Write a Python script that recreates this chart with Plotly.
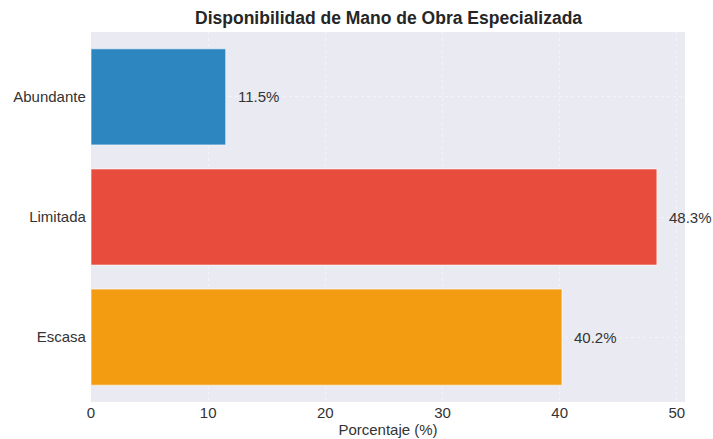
import plotly.graph_objects as go

categories = ["Escasa", "Limitada", "Abundante"]
values = [40.2, 48.3, 11.5]
colors = ["#f39c12", "#e74c3c", "#2e86c1"]
labels = [f"{v:.1f}%" for v in values]

fig = go.Figure()
fig.add_trace(go.Bar(
    y=categories, x=values, orientation="h",
    marker=dict(color=colors, line=dict(color="rgba(255,255,255,0.6)", width=1)),
    width=0.8, showlegend=False, hoverinfo="skip",
))
for c, v, t in zip(categories, values, labels):
    fig.add_annotation(x=v, y=c, text=t, showarrow=False, xanchor="left",
                       xshift=10, font=dict(size=15, color="#333333"))

fig.update_layout(
    width=713, height=439,
    margin=dict(l=91, r=28, t=32, b=37),
    paper_bgcolor="white", plot_bgcolor="#eaeaf2",
    font=dict(family="Liberation Sans, Arial, sans-serif", size=15, color="#333333"),
    title=dict(text="<b>Disponibilidad de Mano de Obra Especializada</b>",
               x=0.545, xanchor="center", y=0.959, yanchor="middle",
               font=dict(size=17.5, color="#262626")),
    bargap=0.2,
)
fig.update_xaxes(range=[0, 50.7], tickvals=[0, 10, 20, 30, 40, 50],
                 showgrid=True, gridcolor="rgba(255,255,255,0.45)", gridwidth=1, griddash="dot",
                 zeroline=False,
                 ticks="", tickfont=dict(size=15, color="#333333"), automargin=False,
                 title=dict(text="Porcentaje (%)", font=dict(size=15, color="#333333"), standoff=0))
fig.update_yaxes(range=[-0.54, 2.54], showgrid=True, gridcolor="rgba(255,255,255,0.45)", gridwidth=1,
                 griddash="dot",
                 ticks="", tickfont=dict(size=15, color="#333333"), ticksuffix=" ", automargin=False)
fig.write_html("out.html", config={"displayModeBar": False},
               post_script="document.body.style.margin='0';document.body.style.overflow='hidden';")
